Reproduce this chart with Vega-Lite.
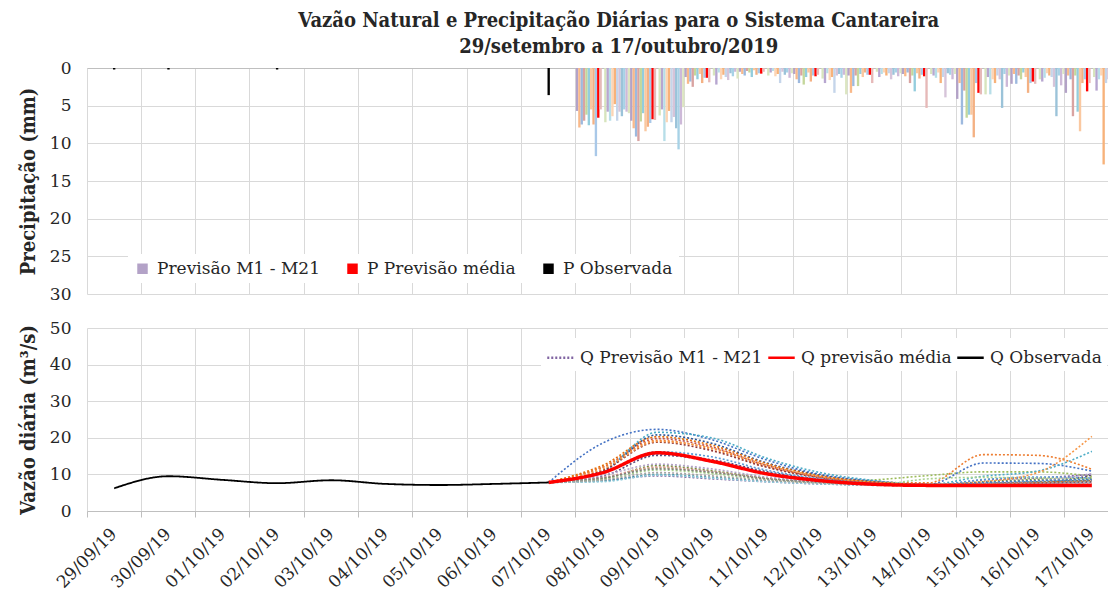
{
  "$schema": "https://vega.github.io/schema/vega-lite/v6.json",
  "background": "white",
  "padding": {"left": 18, "top": 11, "right": 0, "bottom": 0},
  "bounds": "flush",
  "spacing": 34,
  "config": {"view": {"stroke": null}, "font": "DejaVu Serif"},
  "title": {
    "text": ["Vazão Natural e Precipitação Diárias para o Sistema Cantareira", "29/setembro a 17/outubro/2019"],
    "font": "DejaVu Serif Condensed", "fontSize": 20, "fontWeight": "bold", "lineHeight": 26,
    "color": "#262626", "anchor": "middle", "offset": 2, "dx": 50
  },
  "datasets": {
    "chuva": [
      {"d":"29/09/19","P Observada":0.2},
      {"d":"30/09/19","P Observada":0.2},
      {"d":"02/10/19","P Observada":0.2},
      {"d":"07/10/19","P Observada":3.6},
      {"d":"08/10/19","M1":5.7,"M2":7.9,"M3":7.5,"M4":7.0,"M5":6.2,"M6":7.6,"M7":5.5,"M8":7.5,"M9":11.7,"P Previsão média":6.6,"M10":5.5,"M11":7.2,"M12":5.8,"M13":7.0,"M14":6.4,"M15":4.8,"M16":7.0,"M17":5.8,"M18":6.4,"M19":5.5,"M20":5.8,"M21":6.0},
      {"d":"09/10/19","M1":7.0,"M2":8.0,"M3":9.1,"M4":9.7,"M5":7.1,"M6":6.0,"M7":8.4,"M8":7.8,"M9":7.3,"P Previsão média":6.8,"M10":6.9,"M11":6.3,"M12":5.5,"M13":9.7,"M14":7.2,"M15":5.7,"M16":7.2,"M17":6.5,"M18":8.0,"M19":10.8,"M20":7.5,"M21":5.2},
      {"d":"10/10/19","M1":1.2,"M2":2.1,"M3":1.8,"M4":2.5,"M5":1.0,"M6":1.5,"M7":0.8,"M8":2.0,"M9":1.3,"P Previsão média":1.3,"M10":1.9,"M11":1.0,"M12":2.2,"M13":0.6,"M14":1.5,"M15":0.9,"M16":1.2,"M17":1.6,"M18":0.7,"M19":1.1,"M20":0.5,"M21":1.4},
      {"d":"11/10/19","M1":0.5,"M2":0.8,"M3":1.0,"M4":0.4,"M5":0.6,"M6":1.2,"M7":0.3,"M8":0.9,"M9":0.7,"P Previsão média":0.75,"M10":0.5,"M11":1.0,"M12":0.6,"M13":0.4,"M14":1.1,"M15":0.8,"M16":2.0,"M17":0.5,"M18":0.9,"M19":0.6,"M20":1.3,"M21":0.7},
      {"d":"12/10/19","M1":0.8,"M2":1.5,"M3":2.0,"M4":1.0,"M5":2.2,"M6":1.2,"M7":0.6,"M8":1.8,"M9":1.0,"P Previsão média":1.1,"M10":0.9,"M11":1.4,"M12":2.0,"M13":0.7,"M14":1.6,"M15":1.2,"M16":3.3,"M17":1.0,"M18":0.8,"M19":1.3,"M20":0.9,"M21":3.5},
      {"d":"13/10/19","M1":1.0,"M2":3.3,"M3":2.4,"M4":1.0,"M5":2.4,"M6":0.8,"M7":1.2,"M8":0.6,"M9":0.9,"P Previsão média":0.9,"M10":2.0,"M11":0.5,"M12":1.2,"M13":0.8,"M14":0.6,"M15":1.0,"M16":0.7,"M17":1.5,"M18":0.9,"M19":0.6,"M20":1.1,"M21":0.7},
      {"d":"14/10/19","M1":0.8,"M2":1.1,"M3":0.6,"M4":2.0,"M5":1.0,"M6":3.1,"M7":0.7,"M8":1.4,"M9":0.9,"P Previsão média":1.1,"M10":5.3,"M11":0.8,"M12":1.0,"M13":1.3,"M14":0.6,"M15":2.0,"M16":1.2,"M17":3.9,"M18":0.7,"M19":0.9,"M20":1.5,"M21":0.8},
      {"d":"15/10/19","M1":4.1,"M2":2.0,"M3":7.5,"M4":3.0,"M5":6.6,"M6":6.2,"M7":6.2,"M8":9.2,"M9":2.0,"P Previsão média":3.3,"M10":3.5,"M11":3.5,"M12":1.2,"M13":3.5,"M14":1.5,"M15":2.0,"M16":1.0,"M17":1.5,"M18":5.3,"M19":0.8,"M20":2.5,"M21":1.0},
      {"d":"16/10/19","M1":2.1,"M2":0.8,"M3":2.1,"M4":1.0,"M5":1.5,"M6":0.6,"M7":1.2,"M8":3.3,"M9":2.0,"P Previsão média":1.8,"M10":2.1,"M11":1.5,"M12":1.8,"M13":1.3,"M14":0.7,"M15":1.0,"M16":1.2,"M17":2.5,"M18":6.4,"M19":1.0,"M20":2.3,"M21":0.8},
      {"d":"17/10/19","M1":3.3,"M2":1.0,"M3":1.5,"M4":6.4,"M5":1.0,"M6":5.8,"M7":8.4,"M8":2.0,"M9":1.5,"P Previsão média":3.1,"M10":2.0,"M11":1.2,"M12":3.0,"M13":1.5,"M14":1.0,"M15":12.8,"M16":2.0,"M17":1.5,"M18":2.5,"M19":1.0,"M20":2.0,"M21":1.5}
    ],
    "vazao": [
      {"d":"29/09/19","Q Observada":6.2},
      {"d":"30/09/19","Q Observada":9.5},
      {"d":"01/10/19","Q Observada":8.5},
      {"d":"02/10/19","Q Observada":7.6},
      {"d":"03/10/19","Q Observada":8.4},
      {"d":"04/10/19","Q Observada":7.4},
      {"d":"05/10/19","Q Observada":7.1},
      {"d":"06/10/19","Q Observada":7.4},
      {"d":"07/10/19","Q Observada":7.8,"Q previsão média":7.8,"M1":7.8,"M2":7.8,"M3":7.8,"M4":7.8,"M5":7.8,"M6":7.8,"M7":7.8,"M8":7.8,"M9":7.8,"M10":7.8,"M11":7.8,"M12":7.8,"M13":7.8,"M14":7.8,"M15":7.8,"M16":7.8,"M17":7.8,"M18":7.8,"M19":7.8,"M20":7.8,"M21":7.8},
      {"d":"08/10/19","Q previsão média":10.5,"M1":8.4,"M2":12.0,"M3":9.0,"M4":18.6,"M5":11.0,"M6":12.0,"M7":10.8,"M8":11.2,"M9":8.8,"M10":9.5,"M11":8.2,"M12":12.5,"M13":10.2,"M14":9.2,"M15":8.6,"M16":9.8,"M17":8.0,"M18":11.5,"M19":9.0,"M20":10.5,"M21":8.5},
      {"d":"09/10/19","Q previsão média":15.9,"M1":9.6,"M2":19.8,"M3":11.8,"M4":22.3,"M5":21.5,"M6":19.3,"M7":20.8,"M8":18.8,"M9":12.4,"M10":15.2,"M11":10.0,"M12":20.3,"M13":16.2,"M14":12.0,"M15":11.2,"M16":12.8,"M17":9.8,"M18":19.0,"M19":11.5,"M20":15.5,"M21":10.5},
      {"d":"10/10/19","Q previsão média":13.6,"M1":8.8,"M2":17.5,"M3":10.5,"M4":19.5,"M5":20.0,"M6":17.0,"M7":18.5,"M8":16.5,"M9":11.0,"M10":14.0,"M11":9.2,"M12":18.0,"M13":14.8,"M14":10.8,"M15":10.2,"M16":11.5,"M17":9.0,"M18":17.2,"M19":10.6,"M20":13.6,"M21":9.6},
      {"d":"11/10/19","Q previsão média":10.2,"M1":8.0,"M2":12.5,"M3":8.8,"M4":14.0,"M5":14.5,"M6":12.2,"M7":13.2,"M8":12.0,"M9":9.0,"M10":10.8,"M11":8.2,"M12":13.0,"M13":11.2,"M14":8.9,"M15":8.6,"M16":9.3,"M17":8.0,"M18":12.6,"M19":8.8,"M20":10.5,"M21":8.4},
      {"d":"12/10/19","Q previsão média":8.3,"M1":7.4,"M2":9.2,"M3":7.8,"M4":10.0,"M5":10.5,"M6":9.3,"M7":9.8,"M8":9.1,"M9":7.9,"M10":8.6,"M11":7.5,"M12":9.6,"M13":8.8,"M14":7.9,"M15":7.7,"M16":8.0,"M17":7.4,"M18":9.4,"M19":7.8,"M20":8.5,"M21":7.6},
      {"d":"13/10/19","Q previsão média":7.3,"M1":7.1,"M2":7.8,"M3":8.5,"M4":8.2,"M5":8.3,"M6":7.8,"M7":8.0,"M8":7.7,"M9":7.3,"M10":7.5,"M11":7.1,"M12":7.9,"M13":7.6,"M14":7.3,"M15":7.2,"M16":7.4,"M17":7.0,"M18":7.8,"M19":7.2,"M20":7.5,"M21":7.1},
      {"d":"14/10/19","Q previsão média":7.0,"M1":7.0,"M2":7.2,"M3":9.7,"M4":7.3,"M5":7.3,"M6":7.7,"M7":7.2,"M8":7.1,"M9":7.0,"M10":7.0,"M11":7.0,"M12":7.2,"M13":7.0,"M14":7.0,"M15":8.8,"M16":7.0,"M17":6.9,"M18":7.2,"M19":7.0,"M20":7.0,"M21":7.0},
      {"d":"15/10/19","Q previsão média":7.0,"M1":8.5,"M2":7.5,"M3":10.7,"M4":13.1,"M5":9.5,"M6":15.4,"M7":7.4,"M8":7.3,"M9":8.0,"M10":7.2,"M11":7.5,"M12":7.4,"M13":8.6,"M14":7.2,"M15":9.2,"M16":7.6,"M17":7.0,"M18":8.0,"M19":7.4,"M20":7.8,"M21":7.3},
      {"d":"16/10/19","Q previsão média":7.0,"M1":9.0,"M2":7.6,"M3":10.7,"M4":13.0,"M5":10.9,"M6":15.2,"M7":7.6,"M8":7.4,"M9":8.6,"M10":7.5,"M11":8.0,"M12":7.8,"M13":9.3,"M14":7.4,"M15":9.0,"M16":8.2,"M17":7.2,"M18":10.5,"M19":7.8,"M20":8.3,"M21":7.6},
      {"d":"17/10/19","Q previsão média":7.0,"M1":10.0,"M2":7.8,"M3":9.5,"M4":10.9,"M5":16.3,"M6":11.4,"M7":8.0,"M8":8.5,"M9":9.0,"M10":9.8,"M11":8.4,"M12":8.2,"M13":9.0,"M14":7.6,"M15":8.8,"M16":10.2,"M17":7.5,"M18":20.4,"M19":8.2,"M20":8.6,"M21":8.0}
    ]
  },
  "resolve": {"scale": {"color": "independent", "strokeDash": "independent"}, "legend": {"color": "independent"}},
  "vconcat": [
    {
      "width": 1032,
      "height": 226,
      "data": {"name": "chuva"},
      "transform": [
        {"fold": ["M1","M2","M3","M4","M5","M6","M7","M8","M9","P Previsão média","M10","P Observada","M11","M12","M13","M14","M15","M16","M17","M18","M19","M20","M21"], "as": ["serie", "mm"]},
        {"filter": "isValid(datum.mm)"}
      ],
      "mark": {"type": "bar"},
      "encoding": {
        "x": {
          "field": "d", "type": "ordinal",
          "scale": {"domain": ["29/09/19","30/09/19","01/10/19","02/10/19","03/10/19","04/10/19","05/10/19","06/10/19","07/10/19","08/10/19","09/10/19","10/10/19","11/10/19","12/10/19","13/10/19","14/10/19","15/10/19","16/10/19","17/10/19"], "paddingInner": 0, "paddingOuter": 0},
          "axis": {"orient": "top", "title": null, "labels": false, "ticks": false, "domain": true, "domainColor": "#BFBFBF", "grid": true, "gridColor": "#D9D9D9", "bandPosition": 0}
        },
        "xOffset": {
          "field": "serie", "type": "nominal",
          "scale": {"domain": ["M1","M2","M3","M4","M5","M6","M7","M8","M9","P Previsão média","M10","P Observada","M11","M12","M13","M14","M15","M16","M17","M18","M19","M20","M21"], "paddingInner": 0, "paddingOuter": 0}
        },
        "y": {
          "field": "mm", "type": "quantitative",
          "scale": {"domain": [0, 30], "reverse": true, "nice": false},
          "axis": {"title": "Precipitação (mm)", "values": [0,5,10,15,20,25,30], "grid": true, "gridColor": "#D9D9D9", "domain": false, "ticks": false, "labelPadding": 16, "labelFontSize": 17, "labelFont": "DejaVu Serif", "labelColor": "#262626", "titleFont": "DejaVu Serif Condensed", "titleFontSize": 20, "titleFontWeight": "bold", "titleColor": "#262626", "titlePadding": 11}
        },
        "color": {
          "field": "serie", "type": "nominal",
          "scale": {
            "domain": ["M1","M2","M3","M4","M5","M6","M7","M8","M9","P Previsão média","M10","P Observada","M11","M12","M13","M14","M15","M16","M17","M18","M19","M20","M21"],
            "range": ["#B3A2C7","#F9B98A","#9DB9DE","#D9A3A1","#C4D79B","#93CDDD","#FAC8A0","#F4B183","#A9C8E8","#FF0000","#E6B9B8","#000000","#D7E4BD","#B7A6D0","#B7DEE8","#FCD5B5","#F7B27A","#C5D5EA","#D6C4D9","#9BC3D9","#A7D2E6","#CDB9D8","#DCE6C1"]
          },
          "legend": {
            "values": ["M1", "P Previsão média", "P Observada"],
            "labelExpr": "datum.value == 'M1' ? 'Previsão M1 - M21' : datum.label",
            "orient": "none", "legendX": 41, "legendY": 186, "direction": "horizontal",
            "title": null, "symbolType": "square", "symbolSize": 110, "symbolStrokeWidth": 0,
            "labelFontSize": 17, "labelFont": "DejaVu Serif", "labelColor": "#262626", "labelOffset": 6,
            "columnPadding": 24, "fillColor": "white", "padding": 6, "labelLimit": 400
          }
        }
      }
    },
    {
      "width": 1032,
      "height": 183,
      "data": {"name": "vazao"},
      "encoding": {
        "x": {
          "field": "d", "type": "ordinal", "bandPosition": 0.5,
          "scale": {"type": "band", "domain": ["29/09/19","30/09/19","01/10/19","02/10/19","03/10/19","04/10/19","05/10/19","06/10/19","07/10/19","08/10/19","09/10/19","10/10/19","11/10/19","12/10/19","13/10/19","14/10/19","15/10/19","16/10/19","17/10/19"], "paddingInner": 0, "paddingOuter": 0},
          "axis": {"orient": "bottom", "title": null, "bandPosition": 0, "grid": true, "gridColor": "#D9D9D9", "domainColor": "#BFBFBF", "tickColor": "#BFBFBF", "tickSize": 6, "labelAngle": -45, "labelAlign": "right", "labelBaseline": "middle", "labelOffset": 0, "labelPadding": 14, "labelFontSize": 17, "labelFont": "DejaVu Serif", "labelColor": "#262626", "labelOverlap": false, "labelBound": false}
        },
        "y": {
          "field": "q", "type": "quantitative",
          "scale": {"domain": [0, 50], "nice": false},
          "axis": {"title": "Vazão diária (m³/s)", "values": [0,10,20,30,40,50], "grid": true, "gridColor": "#D9D9D9", "domain": false, "ticks": false, "labelPadding": 16, "labelFontSize": 17, "labelFont": "DejaVu Serif", "labelColor": "#262626", "titleFont": "DejaVu Serif Condensed", "titleFontSize": 20, "titleFontWeight": "bold", "titleColor": "#262626", "titlePadding": 11}
        },
        "color": {
          "field": "serie", "type": "nominal",
          "scale": {
            "domain": ["M1","M2","M3","M4","M5","M6","M7","M8","M9","M10","M11","M12","M13","M14","M15","M16","M17","M18","M19","M20","M21","Q previsão média","Q Observada"],
            "range": ["#8064A2","#C0504D","#9BBB59","#4472C4","#4BACC6","#ED7D31","#2E5597","#943634","#76923C","#5F497A","#31859C","#E36C09","#5B9BD5","#D99694","#A9D18E","#B2A1C7","#92CDDC","#F79646","#7F7F7F","#4F81BD","#A5A5A5","#FF0000","#000000"]
          },
          "legend": {
            "values": ["M1", "Q previsão média", "Q Observada"],
            "labelExpr": "datum.value == 'M1' ? 'Q Previsão M1 - M21' : datum.label",
            "orient": "none", "legendX": 454, "legendY": 10, "direction": "horizontal",
            "title": null, "symbolType": "stroke", "symbolSize": 700, "symbolStrokeWidth": 2.5,
            "labelFontSize": 17, "labelFont": "DejaVu Serif", "labelColor": "#262626", "labelOffset": 5,
            "columnPadding": 0, "fillColor": "white", "padding": 5, "labelLimit": 400
          }
        },
        "strokeDash": {
          "field": "serie", "type": "nominal",
          "scale": {
            "domain": ["M1","M2","M3","M4","M5","M6","M7","M8","M9","M10","M11","M12","M13","M14","M15","M16","M17","M18","M19","M20","M21","Q previsão média","Q Observada"],
            "range": [[2,2],[2,2],[2,2],[2,2],[2,2],[2,2],[2,2],[2,2],[2,2],[2,2],[2,2],[2,2],[2,2],[2,2],[2,2],[2,2],[2,2],[2,2],[2,2],[2,2],[2,2],[1,0],[1,0]]
          },
          "legend": {
            "values": ["M1", "Q previsão média", "Q Observada"],
            "labelExpr": "datum.value == 'M1' ? 'Q Previsão M1 - M21' : datum.label",
            "orient": "none", "legendX": 454, "legendY": 10, "direction": "horizontal",
            "title": null, "symbolType": "stroke", "symbolSize": 700, "symbolStrokeWidth": 2.5,
            "labelFontSize": 17, "labelFont": "DejaVu Serif", "labelColor": "#262626", "labelOffset": 5,
            "columnPadding": 0, "fillColor": "white", "padding": 5, "labelLimit": 400
          }
        }
      },
      "layer": [
        {
          "transform": [
            {"fold": ["M1","M2","M3","M4","M5","M6","M7","M8","M9","M10","M11","M12","M13","M14","M15","M16","M17","M18","M19","M20","M21"], "as": ["serie", "q"]},
            {"filter": "isValid(datum.q)"}
          ],
          "mark": {"type": "line", "strokeWidth": 1.6, "interpolate": "monotone"}
        },
        {
          "transform": [
            {"fold": ["Q previsão média"], "as": ["serie", "q"]},
            {"filter": "isValid(datum.q)"}
          ],
          "mark": {"type": "line", "strokeWidth": 3.5, "interpolate": "monotone"}
        },
        {
          "transform": [
            {"fold": ["Q Observada"], "as": ["serie", "q"]},
            {"filter": "isValid(datum.q)"}
          ],
          "mark": {"type": "line", "strokeWidth": 1.8, "interpolate": "monotone"}
        }
      ]
    }
  ]
}
